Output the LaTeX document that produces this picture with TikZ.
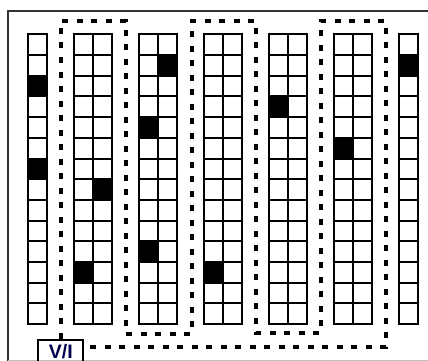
\documentclass[tikz,border=0pt]{standalone}
\usepackage{fontspec}
\setmainfont{Liberation Sans}
\begin{document}
\begin{tikzpicture}[x=1pt,y=-1pt,
  cellline/.style={line width=2pt,black},
  dotline/.style={line width=4.2pt,black,dash pattern=on 6pt off 8.5pt},
  framebox/.style={line width=1.8pt,black!80},
  vibox/.style={draw,line width=2pt,minimum width=45pt,minimum height=24pt,inner sep=0pt,
    font=\fontsize{19.5}{19.5}\selectfont\bfseries,text=blue!30!black}]
\useasboundingbox (0,0) rectangle (428,361);
\fill[white] (0,0) rectangle (428,361);
\def\cw{19.2}
\def\ch{20.7}
\def\top{34.3}
% black cells: column left x, sub column, row
\foreach \cx/\s/\r in {28/0/2, 28/0/6, 74/1/7, 74/0/11, 139/1/1, 139/0/4, 139/0/10,
  203.5/0/11, 269/0/3, 334/0/5, 399/0/1}
  \fill[black] ({\cx+\s*\cw},{\top+\r*\ch}) rectangle ++(\cw,\ch);
% grids
\foreach \cx/\n in {28/1, 74/2, 139/2, 203.5/2, 269/2, 334/2, 399/1}{
  \foreach \r in {0,...,13}{
    \foreach \s in {1,...,\n}{
      \draw[cellline] ({\cx+(\s-1)*\cw},{\top+\r*\ch}) rectangle ++(\cw,\ch);
    }
  }
}
% frame
\draw[framebox] (8,361) -- (8,11) -- (428,11);
\draw[black!25,line width=1pt] (8,360) -- (428,360);
% V/I box
\node[vibox] (vi) at (60.8,351.5) {V/I};
% dotted serpentine
\draw[dotline] (vi.north) -- (60.8,21) -- (126,21) -- (126,334) -- (192,334) -- (192,21)
  -- (256,21) -- (256,333) -- (321,333) -- (321,21) -- (386,21) -- (386,347)
  -- (vi.east |- {(386,347)});
\end{tikzpicture}
\end{document}
